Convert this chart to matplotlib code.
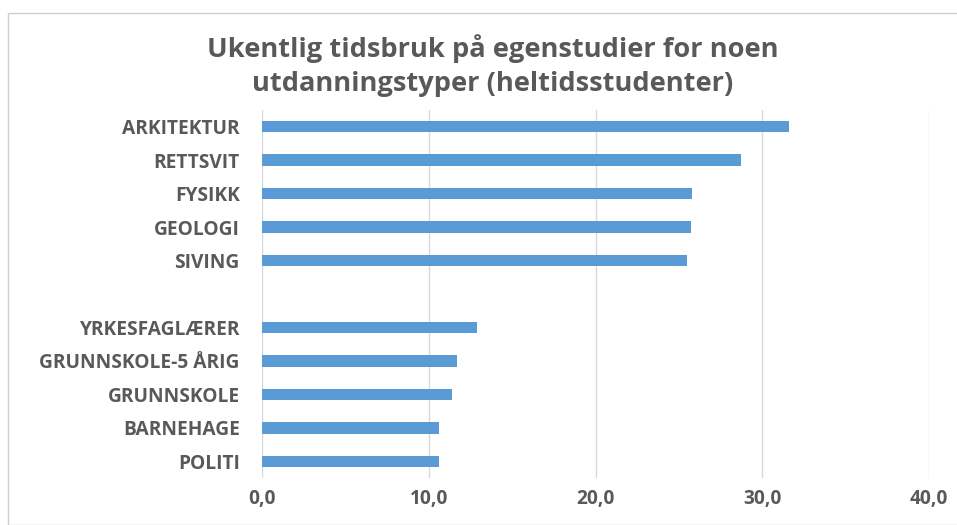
import matplotlib
matplotlib.use("Agg")
import matplotlib.pyplot as plt
from matplotlib.patches import Rectangle
from matplotlib.ticker import FuncFormatter

categories = ["ARKITEKTUR", "RETTSVIT", "FYSIKK", "GEOLOGI", "SIVING", "",
              "YRKESFAGLÆRER", "GRUNNSKOLE-5 ÅRIG", "GRUNNSKOLE", "BARNEHAGE", "POLITI"]
values = [31.6, 28.7, 25.8, 25.7, 25.5, None, 12.9, 11.7, 11.4, 10.6, 10.6]
xticks = [0, 10, 20, 30, 40]
title = "Ukentlig tidsbruk på egenstudier for noen\nutdanningstyper (heltidsstudenter)"

plt.rcParams['font.family'] = ['Open Sans', 'DejaVu Sans']
text_color = "#595959"
bar_color = "#5B9BD5"
grid_color = "#D9D9D9"

W, H = 957, 525
fig = plt.figure(figsize=(W / 100, H / 100), dpi=100)
# outer chart border
fig.patches.append(Rectangle((8 / W, 0), 1.0, (H - 13) / H, transform=fig.transFigure,
                             fill=False, edgecolor="#D0D0D0", linewidth=1.0))

left, right, top, bottom = 262, 929, 110, 478
ax = fig.add_axes([left / W, 1 - bottom / H, (right - left) / W, (bottom - top) / H])

ypos = list(range(len(categories)))
vals = [v if v is not None else 0 for v in values]
ax.barh(ypos, vals, height=0.34, color=bar_color, zorder=3)

ax.set_ylim(len(categories) - 0.5, -0.5)
ax.set_xlim(0, 40)
ax.set_xticks(xticks)
ax.xaxis.set_major_formatter(FuncFormatter(lambda v, p: f"{v:.1f}".replace(".", ",")))
ax.set_yticks(ypos)
ax.set_yticklabels(categories)

ax.grid(axis="x", color=grid_color, linewidth=1.0, zorder=0)
for s in ax.spines.values():
    s.set_visible(False)
ax.tick_params(axis="both", length=0, colors=text_color)
ax.tick_params(axis="x", pad=8)
ax.tick_params(axis="y", pad=16)
for lbl in ax.get_xticklabels() + ax.get_yticklabels():
    lbl.set_fontsize(13.8)
    lbl.set_fontweight("bold")
    lbl.set_color(text_color)

fig.text(493 / W, 1 - 66 / H, title, ha="center", va="center", fontsize=19.6,
         fontweight="bold", color=text_color, linespacing=1.4)

fig.savefig("out.png", dpi=100)
